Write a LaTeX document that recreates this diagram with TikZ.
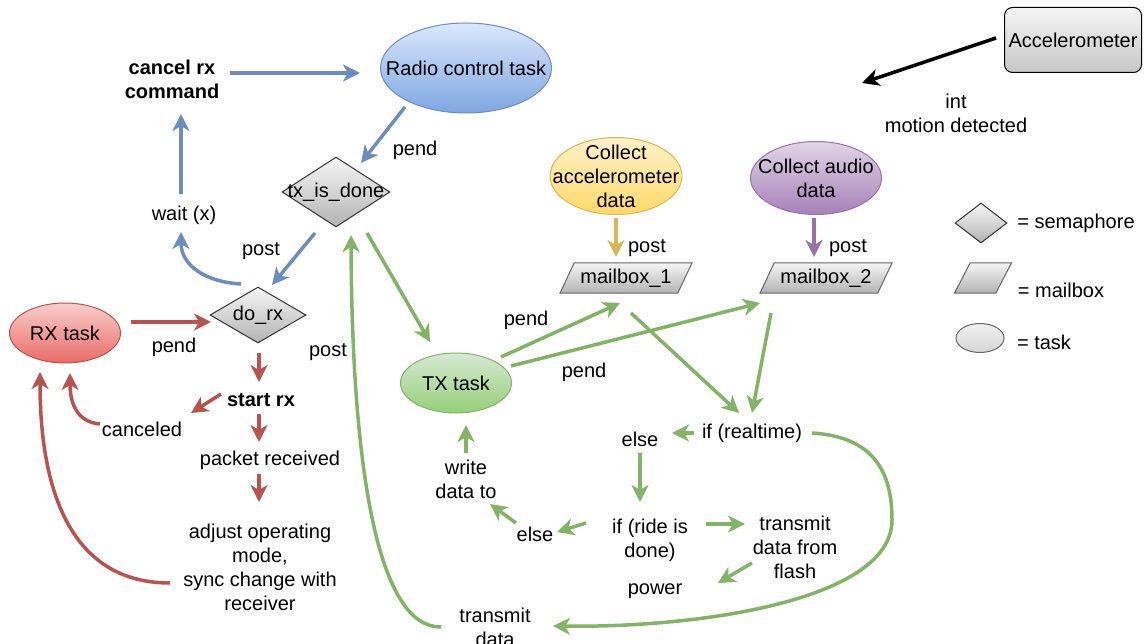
\documentclass[tikz,border=0pt]{standalone}
\usepackage{fontspec}
\setmainfont{Liberation Sans}
\usetikzlibrary{shapes.geometric,arrows.meta,calc}

\definecolor{bS}{HTML}{6C8EBF}\definecolor{bT}{HTML}{DAE8FC}\definecolor{bB}{HTML}{7EA6E0}
\definecolor{rS}{HTML}{B85450}\definecolor{rT}{HTML}{F8CECC}\definecolor{rB}{HTML}{EA6B66}
\definecolor{gS}{HTML}{82B366}\definecolor{gT}{HTML}{D5E8D4}\definecolor{gB}{HTML}{97D077}
\definecolor{yS}{HTML}{D6B656}\definecolor{yT}{HTML}{FFF2CC}\definecolor{yB}{HTML}{FFD966}
\definecolor{pS}{HTML}{9673A6}\definecolor{pT}{HTML}{E1D5E7}\definecolor{pB}{HTML}{A680B8}
\definecolor{kT}{HTML}{F5F5F5}\definecolor{kB}{HTML}{B3B3B3}\definecolor{kS}{HTML}{666666}

\begin{document}
\begin{tikzpicture}[x=1pt,y=-1pt,
  txt/.style={align=center,inner sep=0pt,font=\fontsize{20}{24}\selectfont},
  btxt/.style={txt,font=\fontsize{20}{24}\selectfont\bfseries},
  task/.style={ellipse,draw,line width=1pt,inner sep=0pt},
  blueT/.style={task,draw=bS,top color=bT,bottom color=bB},
  redT/.style={task,draw=rS,top color=rT,bottom color=rB},
  greenT/.style={task,draw=gS,top color=gT,bottom color=gB},
  yellowT/.style={task,draw=yS,top color=yT,bottom color=yB},
  purpleT/.style={task,draw=pS,top color=pT,bottom color=pB},
  semaph/.style={diamond,draw=black!80,line width=1pt,inner sep=0pt,top color=kT!90!white,bottom color=kB},
  mbox/.style={trapezium,trapezium left angle=60,trapezium right angle=120,trapezium stretches=true,
    draw=kS,line width=1pt,inner sep=2pt,top color=kT,bottom color=kB,
    font=\fontsize{20}{24}\selectfont},
  arr/.style={line width=3.5pt,-{Stealth[length=17pt,width=17pt,inset=5pt]}},
  arrB/.style={arr,draw=bS},
  arrR/.style={arr,draw=rS},
  arrG/.style={arr,draw=gS},
  arrY/.style={arr,draw=yS},
  arrP/.style={arr,draw=pS},
  arrK/.style={arr,draw=black}]
\useasboundingbox (0,0) rectangle (1145,644);

% ---------- radio / receive side ----------
\node[blueT,minimum width=171pt,minimum height=90pt] (radio) at (466,68) {};
\node[txt] (radioT) at (radio) {Radio control task};
\node[btxt] (cancel) at (172,79) {cancel rx\\command};
\node[semaph,minimum width=108pt,minimum height=70pt] (txd) at (336,192) {};
\node[txt] (txdT) at (txd) {tx\_is\_done};
\node[txt] (wait) at (184,215) {wait (x)};
\node[semaph,minimum width=96pt,minimum height=56pt] (dorx) at (258,315) {};
\node[txt] (dorxT) at (dorx) {do\_rx};
\node[redT,minimum width=111pt,minimum height=60pt] (rx) at (65,333) {};
\node[txt] (rxT) at (rx) {RX task};
\node[btxt] (start) at (261,400) {start rx};
\node[txt] (cancd) at (142,429) {canceled};
\node[txt] (packet) at (270,460) {packet received};
\node[txt] (adjust) at (260,567) {adjust operating\\mode,\\sync change with\\receiver};

\node[txt] (pend1) at (415,150) {pend};
\node[txt] (post1) at (261,251) {post};
\node[txt] (pend2) at (174,347) {pend};
\node[txt] (post2) at (328,352) {post};

% ---------- transmit side ----------
\node[greenT,minimum width=111pt,minimum height=60pt] (txtask) at (456,383) {};
\node[txt] (txtaskT) at (txtask) {TX task};
\node[yellowT,minimum width=132pt,minimum height=77pt] (coll1) at (616,176) {};
\node[txt] (coll1T) at (coll1) {Collect\\accelerometer\\data};
\node[purpleT,minimum width=131pt,minimum height=73pt] (coll2) at (816,178) {};
\node[txt] (coll2T) at (coll2) {Collect audio\\data};
\node[mbox,minimum width=132pt,minimum height=30pt] (mb1) at (626,278) {mailbox\_1};
\node[mbox,minimum width=132pt,minimum height=30pt] (mb2) at (826,278) {mailbox\_2};

\node[txt] (pend3) at (526,320) {pend};
\node[txt] (pend4) at (584,372) {pend};
\node[txt] (post3) at (647,248) {post};
\node[txt] (post4) at (848,248) {post};

\node[txt] (ifrt) at (752,433) {if (realtime)};
\node[txt] (else1) at (640,439) {else};
\node[txt] (ifride) at (650,540) {if (ride is\\done)};
\node[txt] (else2) at (535,534) {else};
\node[txt] (write) at (466,479) {write\\data to};
\node[txt] (tdf) at (795,547) {transmit\\data from\\flash};
\node[txt] (power) at (655,591) {power};
\node[txt] (trd) at (495,627) {transmit\\data};

% ---------- accelerometer ----------
\node[txt,draw=black,line width=1pt,rounded corners=8pt,top color=kT,bottom color=black!22,
  minimum width=137pt,minimum height=65pt] (accel) at (1073,40) {Accelerometer};
\node[txt] (intl) at (956,113) {int\\motion detected};
\coordinate (intTip) at (862,83);

% ---------- legend ----------
\node[semaph,minimum width=52pt,minimum height=40pt] (legD) at (981,223) {};
\node[txt] (legDT) at (1076,223) {= semaphore};
\node[mbox,minimum width=57pt,minimum height=30pt] (legP) at (983,278) {\phantom{x}};
\node[txt] (legPT) at (1061,290) {= mailbox};
\node[task,draw=kS,top color=black!6,bottom color=black!16,minimum width=48pt,minimum height=29pt] (legE) at (980,338) {};
\node[txt] (legET) at (1044,342) {= task};

% ---------- blue connectors ----------
\draw[arrB] ($(cancel)+(58,-6)$) -- ($(radio)+(-106,5)$);
\draw[arrB] ($(radio)+(-61,39)$) -- ($(txd)+(25,-29)$);
\draw[arrB] ($(wait)+(-3,-21)$) -- ($(cancel)+(9,35)$);
\draw[arrB] ($(dorx)+(-17,-31)$) .. controls ($(dorx)+(-53,-33)$) and ($(wait)+(-3,50)$) .. ($(wait)+(-3,17)$);
\draw[arrB] ($(txd)+(-21,41)$) -- ($(dorx)+(14,-30)$);

% ---------- red connectors ----------
\draw[arrR] ($(rx)+(66,-11)$) -- ($(dorx)+(-47,7)$);
\draw[arrR] ($(dorx)+(1,38)$) -- ($(start)+(-2,-18)$);
\draw[arrR] ($(start)+(-40,-6)$) -- ($(cancd)+(49,-16)$);
\draw[arrR] ($(cancd)+(-42,-5)$) .. controls ($(cancd)+(-67,-7)$) and ($(rx)+(5,67)$) .. ($(rx)+(5,40)$);
\draw[arrR] ($(start)+(-2,14)$) -- ($(packet)+(-11,-18)$);
\draw[arrR] ($(packet)+(-11,14)$) -- ($(adjust)+(-1,-65)$);
\draw[arrR] ($(adjust)+(-90,16)$) .. controls ($(adjust)+(-200,16)$) and ($(rx)+(-25,137)$) .. ($(rx)+(-25,39)$);

% ---------- green connectors ----------
\draw[arrG] ($(txd)+(31,41)$) -- ($(txtask)+(-26,-41)$);
\draw[arrG] ($(trd)+(-54,0)$) .. controls ($(trd)+(-115,1)$) and ($(txd)+(16,288)$) .. ($(txd)+(15,43)$);
\draw[arrG] ($(txtask)+(45,-26)$) -- ($(mb1)+(-6,25)$);
\draw[arrG] ($(txtask)+(55,-17)$) -- ($(mb2)+(-66,25)$);
\draw[arrG] ($(mb1)+(5,35)$) -- ($(ifrt)+(-13,-20)$);
\draw[arrG] ($(mb2)+(-55,35)$) -- ($(ifrt)+(0,-20)$);
\draw[arrG] ($(ifrt)+(-58,0)$) -- ($(else1)+(32,-6)$);
\draw[arrG] ($(else1)+(0,14)$) -- ($(ifride)+(-10,-38)$);
\draw[arrG] ($(ifride)+(-64,-17)$) -- ($(else2)+(22,-2)$);
\draw[arrG] ($(else2)+(-19,-11)$) -- ($(write)+(24,25)$);
\draw[arrG] ($(write)+(0,-26)$) -- ($(txtask)+(10,42)$);
\draw[arrG] ($(ifride)+(56,-16)$) -- ($(tdf)+(-50,-23)$);
\draw[arrG] ($(tdf)+(-43,16)$) -- ($(power)+(63,-8)$);
\draw[arrG] ($(ifrt)+(60,0)$) .. controls ($(ifrt)+(128,4)$) and ($(ifrt)+(140,47)$) .. ($(ifrt)+(140,87)$)
  .. controls ($(ifrt)+(140,167)$) and ($(trd)+(205,1)$) .. ($(trd)+(58,-1)$);

% ---------- mailbox posts ----------
\draw[arrY] ($(coll1)+(0,42)$) -- ($(mb1)+(-10,-21)$);
\draw[arrP] ($(coll2)+(-2,40)$) -- ($(mb2)+(-12,-21)$);

% ---------- interrupt ----------
\draw[arrK] ($(accel)+(-77,-2)$) -- (intTip);
\end{tikzpicture}
\end{document}
